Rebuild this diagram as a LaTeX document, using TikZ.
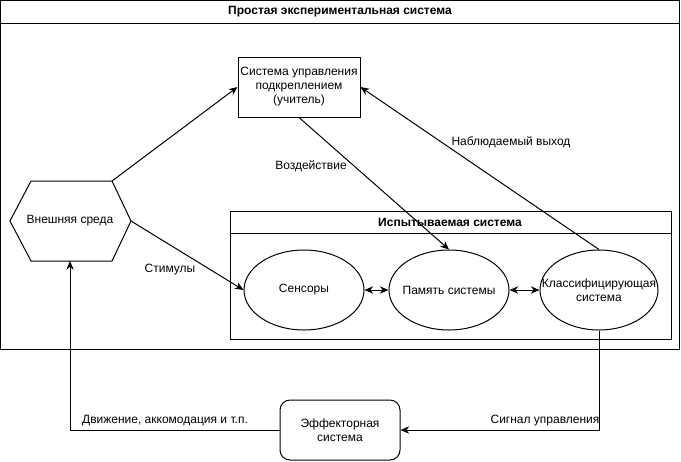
\documentclass[tikz,border=0pt]{standalone}
\usepackage{fontspec}
\setmainfont{Liberation Sans}
\usetikzlibrary{arrows.meta,shapes.geometric}
\tikzset{
  box/.style={draw, rectangle, inner sep=0pt, align=center, minimum width=91.5pt, minimum height=45pt},
  ell/.style={draw, ellipse, inner sep=0pt, minimum width=90pt, minimum height=60pt},
  intext/.style={label={[align=center, inner sep=0pt]center:#1}},
  lbl/.style={inner sep=1pt},
  ttl/.style={inner sep=0pt, font=\fontsize{9}{10.5}\selectfont\bfseries},
  conn/.style={-{Stealth[length=6.5pt,width=5.5pt]}},
  dconn/.style={{Stealth[length=6.5pt,width=5.5pt]}-{Stealth[length=6.5pt,width=5.5pt]}}
}
\begin{document}
\begin{tikzpicture}[x=0.75pt,y=-0.75pt, font=\fontsize{9}{10.5}\selectfont, line width=0.75pt]
\useasboundingbox (0,0) rectangle (681,461);
% outer container
\draw (0.5,0.5) rectangle (679,349);
\draw (0.5,23) -- (679,23);
\node[ttl] (outerT) at (340,12) {Простая экспериментальная система};
% inner container
\draw (230,211) rectangle (671,339);
\draw (230,233) -- (671,233);
\node[ttl] (innerT) at (450,222) {Испытываемая система};
% teacher
\node[box] (teacher) at (299,87) {Система управления\\подкреплением\\(учитель)};
% environment hexagon
\draw (10,221) -- (31,181) -- (112,181) -- (131,221) -- (112,261) -- (31,261) -- cycle;
\node (env) at (70,221) {Внешняя среда};
\coordinate (envTR) at (112,181);
\coordinate (envR) at (131,221);
\coordinate (envB) at (70,261);
% ellipses
\node[ell, intext={Сенсоры}] (sens) at (304,290) {};
\node[ell, intext={Память системы}] (mem) at (449,290) {};
\node[ell, minimum width=88.5pt, intext={Классифицирующая\\система}] (cls) at (599,290) {};
% effector
\node[box, minimum width=90pt, rounded corners=7.5pt] (eff) at (340,430) {Эффекторная\\система};
% connectors
\draw[conn] (envTR) -- (teacher.west);
\draw[conn] (envR) -- (sens.west);
\draw[conn] (teacher.south) -- (mem.north);
\draw[conn] (cls.north) -- (teacher.east);
\draw[dconn] (sens) -- (mem);
\draw[dconn] (mem) -- (cls);
\draw[conn] (cls.south) |- (eff.east);
\draw[conn] (eff.west) -| (envB);
% labels
\node[lbl] (l1) at (170,270) {Стимулы};
\node[lbl] (l2) at (311,166) {Воздействие};
\node[lbl] (l3) at (511,142) {Наблюдаемый выход};
\node[lbl] (l4) at (165,421) {Движение, аккомодация и т.п.};
\node[lbl] (l5) at (545,421) {Сигнал управления};
\end{tikzpicture}
\end{document}
